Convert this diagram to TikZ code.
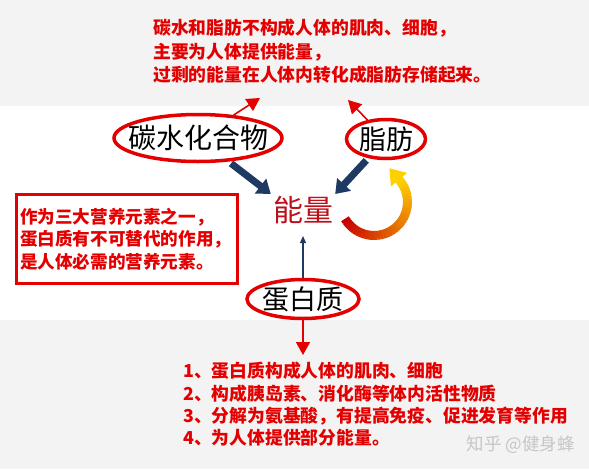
\documentclass[tikz,border=0pt]{standalone}
\usepackage{fontspec}
\setmainfont{Noto Sans CJK SC}
\usetikzlibrary{shapes.geometric,arrows.meta}
\definecolor{bggray}{RGB}{243,243,243}
\definecolor{tred}{RGB}{228,0,0}
\definecolor{ered}{RGB}{190,16,26}
\definecolor{navy}{RGB}{30,58,98}
\definecolor{arcstart}{RGB}{200,0,0}
\definecolor{arcend}{RGB}{255,208,0}

\begin{document}
\begin{tikzpicture}[x=1pt,y=-1pt,
		oval/.style={ellipse,draw=tred,line width=3.5pt,inner sep=0pt},
		word/.style={font=\fontsize{28}{28}\selectfont},
		note/.style={align=left,text=tred,inner sep=0pt},
		navy arrow/.style={navy,line width=7pt,-{Triangle[length=13pt,width=18pt]}},
		red arrow/.style={tred,line width=1.6pt,-{Triangle[length=13pt,width=14pt]}},
		thin arrow/.style={navy,line width=1.3pt,-{Triangle[length=7pt,width=6pt]}}]
		\fill[bggray] (0,0) rectangle (589,469);
		\fill[white] (0,106) rectangle (589,320);
		\node[note,anchor=west,font=\bfseries\fontsize{17.8}{23.5}\selectfont] (store) at (153,51.5) {碳水和脂肪不构成人体的肌肉、细胞，\\主要为人体提供能量，\\过剩的能量在人体内转化成脂肪存储起来。};
		\node[oval,minimum width=168,minimum height=47,label={[word]center:碳水化合物}] (carb) at (198,138) {};
		\node[oval,minimum width=79,minimum height=39,label={[word,font=\fontsize{27}{27}\selectfont]center:脂肪}] (fat) at (386,139) {};
		\node[oval,minimum width=112,minimum height=39,label={[word,font=\fontsize{27}{27}\selectfont]center:蛋白质}] (protein) at (303,299) {};
		\node[text=ered,font=\fontsize{30}{30}\selectfont,inner sep=2pt] (energy) at (303,210) {能量};
		\node[draw=tred,line width=3pt,minimum height=89pt,text width=214pt,inner xsep=3.5pt,align=left,text=tred,font=\bfseries\fontsize{17.6}{22.5}\selectfont] (role) at (127,239) {作为三大营养元素之一，\\蛋白质有不可替代的作用，\\是人体必需的营养元素。};
		\node[note,anchor=west,font=\bfseries\fontsize{17.8}{22.3}\selectfont] (uses) at (183,404.5) {1、蛋白质构成人体的肌肉、细胞\\2、构成胰岛素、消化酶等体内活性物质\\3、分解为氨基酸，有提高免疫、促进发育等作用\\4、为人体提供部分能量。};
		\node[anchor=west,text=gray!45,font=\fontsize{17.5}{17.5}\selectfont] (mark) at (463,445) {知乎 @健身蜂};
		\coordinate (carbtip) at (260,98);
		\coordinate (fattip) at (348,100);
		\coordinate (usetip) at (303,355);
		\draw[red arrow] (carb) -- (carbtip);
		\draw[red arrow] (fat) -- (fattip);
		\draw[red arrow] (protein) -- (usetip);
		\draw[navy arrow,shorten <=3pt] (carb) -- (energy.north west);
		\draw[navy arrow,shorten <=3pt] (fat) -- (energy.north east);
		\draw[thin arrow,shorten >=10pt] (protein) -- (energy);
		\foreach \i in {0,...,37}{
			\pgfmathtruncatemacro\p{100*\i/37}
			\draw[arcend!\p!arcstart,line width=9pt] ({374+33.5*cos(150-5*\i)},{202+33.5*sin(150-5*\i)}) arc[start angle=150-5*\i,end angle=144.4-5*\i,radius=33.5];
		}
		\draw[arcend,line width=9pt,-{Triangle[length=15pt,width=20pt]}] ({374+33.5*cos(-40)},{202+33.5*sin(-40)}) -- ++(-10.3,-12.3);
		\end{tikzpicture}
\end{document}
